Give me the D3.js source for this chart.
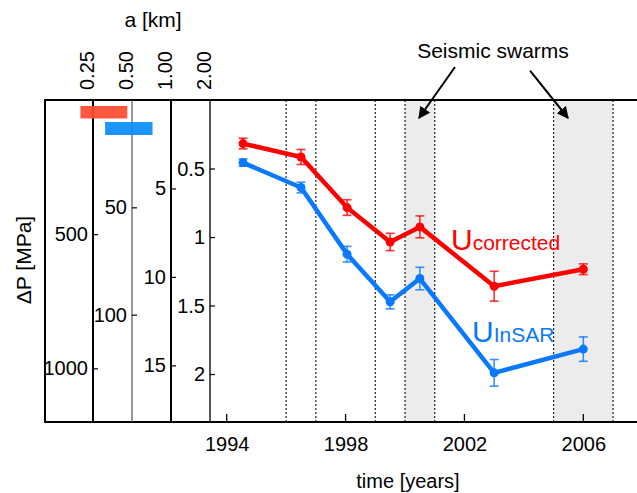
<!DOCTYPE html>
<html><head><meta charset="utf-8">
<script src="https://cdn.jsdelivr.net/npm/d3@7"></script>
<style>
html,body{margin:0;padding:0;background:#fff;}
text{font-family:"Liberation Sans",Arial,Helvetica,sans-serif;}
</style></head>
<body>
<svg id="c" width="637" height="493"></svg>
<script>
// ---- data ----
const years = [1994.55, 1996.5, 1998.05, 1999.5, 2000.5, 2003.0, 2006.0];
const corrected = [0.318, 0.416, 0.785, 1.036, 0.926, 1.359, 1.235];
const correctedErr = [0.039, 0.055, 0.057, 0.063, 0.080, 0.109, 0.039];
const insar = [0.457, 0.639, 1.125, 1.473, 1.303, 1.991, 1.818];
const insarErr = [0.026, 0.039, 0.057, 0.051, 0.082, 0.097, 0.089];
const xTicks = [1994, 1998, 2002, 2006];
const dottedYears = [1996, 1997, 1999, 2000, 2001, 2005, 2007];
const swarms = [[2000, 2001], [2005, 2007]];
const aValues = [0.25, 0.5, 1, 2];
const aLabels = ["0.25", "0.50", "1.00", "2.00"];
const aAxisMax = [1200, 150, 18.2, 2.35];
const aAxisTicks = [[500, 1000], [50, 100], [5, 10, 15], [0.5, 1, 1.5, 2]];
const aAxisTickLabels = [["500", "1000"], ["50", "100"], ["5", "10", "15"], ["0.5", "1", "1.5", "2"]];
const redRange = [0.2, 0.46];
const blueRange = [0.31, 0.72];

// ---- layout ----
const svg = d3.select("#c");
const pTop = 100, pBottom = 422, pLeft = 45, pRight = 640;
const RED = "#ff0000", BLUE = "#0a78ff";
const FONT = 20;

const x = d3.scaleLinear().domain([1994, 2006]).range([226.7, 583.3]);
const aScale = d3.scaleLog().base(2).domain([0.25, 2]).range([93, 210]);
const y = d3.scaleLinear().domain([0, aAxisMax[3]]).range([pTop, pBottom]);

// shaded swarm periods
svg.selectAll("rect.sw").data(swarms).enter().append("rect")
  .attr("x", d => x(d[0])).attr("y", pTop)
  .attr("width", d => x(d[1]) - x(d[0])).attr("height", pBottom - pTop)
  .attr("fill", "#ececec");

// dotted lines
svg.selectAll("line.dot").data(dottedYears).enter().append("line")
  .attr("x1", d => x(d)).attr("x2", d => x(d))
  .attr("y1", pTop).attr("y2", pBottom)
  .attr("stroke", "#222").attr("stroke-width", 1.2).attr("stroke-dasharray", "2,2");

// frame
svg.append("line").attr("x1", pLeft).attr("x2", pRight).attr("y1", pTop).attr("y2", pTop)
  .attr("stroke", "#000").attr("stroke-width", 2);
svg.append("line").attr("x1", pLeft).attr("x2", pLeft).attr("y1", pTop - 1).attr("y2", pBottom + 1)
  .attr("stroke", "#000").attr("stroke-width", 2);

// x axis
const xAxis = d3.axisBottom(x).tickValues(xTicks).tickFormat(d3.format("d")).tickSize(0).tickPadding(15);
const gx = svg.append("g").attr("transform", `translate(0,${pBottom})`).call(xAxis);
gx.select(".domain").remove();
gx.selectAll("text").attr("font-size", FONT).attr("fill", "#000")
  .style("font-family", '"Liberation Sans",Arial,sans-serif');
svg.append("line").attr("x1", pLeft).attr("x2", pRight).attr("y1", pBottom).attr("y2", pBottom)
  .attr("stroke", "#000").attr("stroke-width", 2);
svg.selectAll("line.xt").data(xTicks).enter().append("line")
  .attr("x1", d => x(d)).attr("x2", d => x(d)).attr("y1", pBottom).attr("y2", pBottom - 8)
  .attr("stroke", "#000").attr("stroke-width", 1.3);

svg.append("text").attr("x", 408).attr("y", 488).attr("text-anchor", "middle")
  .attr("font-size", FONT).text("time [years]");

// a-axes (vertical lines with ΔP ticks)
const aStyles = [{c: "#000", w: 2}, {c: "#555", w: 1.2}, {c: "#000", w: 2}, {c: "#111", w: 1.4}];
aValues.forEach((a, i) => {
  const ax = aScale(a);
  svg.append("line").attr("x1", ax).attr("x2", ax).attr("y1", pTop).attr("y2", pBottom)
    .attr("stroke", aStyles[i].c).attr("stroke-width", aStyles[i].w);
  const ys = d3.scaleLinear().domain([0, aAxisMax[i]]).range([pTop, pBottom]);
  const axis = d3.axisRight(ys).tickValues(aAxisTicks[i]).tickSize(5).tickFormat("");
  const g = svg.append("g").attr("transform", `translate(${ax},0)`).call(axis);
  g.select(".domain").remove();
  g.selectAll("line").attr("stroke", "#000").attr("stroke-width", 1.2);
  svg.selectAll(null).data(aAxisTicks[i]).enter().append("text")
    .attr("x", ax - 5).attr("y", d => ys(d)).attr("dy", "0.35em")
    .attr("text-anchor", "end").attr("font-size", FONT)
    .text((d, j) => aAxisTickLabels[i][j]);
  // top labels
  svg.append("text").attr("transform", `translate(${ax + 1},90) rotate(-90)`)
    .attr("text-anchor", "start").attr("font-size", FONT).text(aLabels[i]);
});

svg.append("text").attr("x", 153).attr("y", 27).attr("text-anchor", "middle")
  .attr("font-size", 21).text("a [km]");

svg.append("text").attr("transform", `translate(31,260) rotate(-90)`)
  .attr("text-anchor", "middle").attr("font-size", 21).text("ΔP [MPa]");

// a range bars
svg.append("rect").attr("x", aScale(redRange[0])).attr("y", 106)
  .attr("width", aScale(redRange[1]) - aScale(redRange[0])).attr("height", 12.5)
  .attr("fill", "#ff4a2e").attr("fill-opacity", 0.92);
svg.append("rect").attr("x", aScale(blueRange[0])).attr("y", 122)
  .attr("width", aScale(blueRange[1]) - aScale(blueRange[0])).attr("height", 13)
  .attr("fill", "#0a8cff").attr("fill-opacity", 0.92);

// series
function drawSeries(vals, errs, color) {
  const pts = years.map((yr, i) => ({yr, v: vals[i], e: errs[i]}));
  const g = svg.append("g");
  g.append("path").datum(pts)
    .attr("d", d3.line().x(d => x(d.yr)).y(d => y(d.v)))
    .attr("fill", "none").attr("stroke", color).attr("stroke-width", 4.5)
    .attr("stroke-linejoin", "round");
  const eb = g.append("g").attr("stroke", color).attr("stroke-width", 1.6).attr("stroke-opacity", 0.8);
  eb.selectAll("line.v").data(pts).enter().append("line")
    .attr("x1", d => x(d.yr)).attr("x2", d => x(d.yr))
    .attr("y1", d => y(d.v - d.e)).attr("y2", d => y(d.v + d.e));
  ["-", "+"].forEach(s => {
    eb.selectAll(null).data(pts).enter().append("line")
      .attr("x1", d => x(d.yr) - 4.5).attr("x2", d => x(d.yr) + 4.5)
      .attr("y1", d => y(s === "-" ? d.v - d.e : d.v + d.e))
      .attr("y2", d => y(s === "-" ? d.v - d.e : d.v + d.e));
  });
  g.selectAll("circle").data(pts).enter().append("circle")
    .attr("cx", d => x(d.yr)).attr("cy", d => y(d.v)).attr("r", 4.5)
    .attr("fill", color);
}
drawSeries(corrected, correctedErr, RED);
drawSeries(insar, insarErr, BLUE);

// series labels
const t1 = svg.append("text").attr("x", 451).attr("y", 250).attr("fill", RED);
t1.append("tspan").attr("font-size", 30).text("U");
t1.append("tspan").attr("font-size", 21).text("corrected");
const t2 = svg.append("text").attr("x", 472).attr("y", 341.5).attr("fill", BLUE);
t2.append("tspan").attr("font-size", 30).text("U");
t2.append("tspan").attr("font-size", 21).text("InSAR");

// seismic swarms annotation
svg.append("text").attr("x", 493).attr("y", 58).attr("text-anchor", "middle")
  .attr("font-size", 21).text("Seismic swarms");
const defs = svg.append("defs");
defs.append("marker").attr("id", "ah").attr("viewBox", "0 0 10 10")
  .attr("refX", 9).attr("refY", 5).attr("markerWidth", 6).attr("markerHeight", 6)
  .attr("markerUnits", "strokeWidth").attr("orient", "auto")
  .append("path").attr("d", "M0,0 L10,5 L0,10 Z").attr("fill", "#000");
const arrows = [[455, 67, 419, 118], [530, 70.7, 568, 118]];
svg.selectAll("line.arr").data(arrows).enter().append("line")
  .attr("x1", d => d[0]).attr("y1", d => d[1]).attr("x2", d => d[2]).attr("y2", d => d[3])
  .attr("stroke", "#000").attr("stroke-width", 2).attr("marker-end", "url(#ah)");
</script>
</body></html>
